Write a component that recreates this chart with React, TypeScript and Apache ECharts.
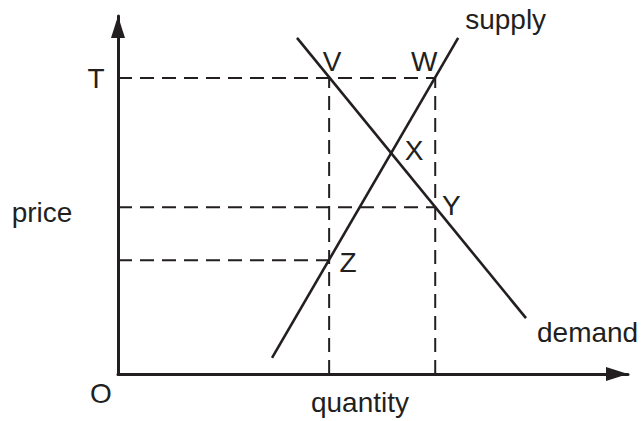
import React, { useEffect, useRef } from 'react';
import * as echarts from 'echarts';

// Curve end points (quantity, price) in chart units (0..100 on each axis)
const supplyQuantity = [30.2, 66.7];
const supplyPrice = [4.5, 93.9];
const demandQuantity = [35.1, 80.0];
const demandPrice = [93.9, 15.6];

// Guide levels
const quantityMarks = [41.4, 62.2]; // V/Z column, W/Y column
const priceMarks = [82.7, 46.6, 31.8]; // T (V,W), Y, Z

// Texts
const pointLabels = ['V', 'W', 'X', 'Y', 'Z'];
const curveLabels = ['supply', 'demand'];
const axisTitles = ['price', 'quantity'];
const priceTickLabel = 'T';
const originLabel = 'O';

const INK = '#231f20';
const FONT = '"Liberation Sans", Arial, Helvetica, sans-serif';
const FS = 28;

function intersect(a1: number[], a2: number[], b1: number[], b2: number[]) {
  const [x1, y1] = a1, [x2, y2] = a2, [x3, y3] = b1, [x4, y4] = b2;
  const d = (x1 - x2) * (y3 - y4) - (y1 - y2) * (x3 - x4);
  const t = ((x1 - x3) * (y3 - y4) - (y1 - y3) * (x3 - x4)) / d;
  return [x1 + t * (x2 - x1), y1 + t * (y2 - y1)];
}

export default function App() {
  const ref = useRef<HTMLDivElement>(null);
  useEffect(() => {
    document.body.style.margin = '0';
    if (!ref.current) return;
    const chart = echarts.init(ref.current, undefined, { renderer: 'svg' });

    const s1 = [supplyQuantity[0], supplyPrice[0]];
    const s2 = [supplyQuantity[1], supplyPrice[1]];
    const d1 = [demandQuantity[0], demandPrice[0]];
    const d2 = [demandQuantity[1], demandPrice[1]];
    const [qV, qW] = quantityMarks;
    const [pT, pY, pZ] = priceMarks;
    const X = intersect(s1, s2, d1, d2);

    const points: Record<string, number[]> = {
      V: [qV, pT],
      W: [qW, pT],
      X,
      Y: [qW, pY],
      Z: [qV, pZ],
    };
    const pointOffsets: Record<string, number[]> = {
      V: [3, -16],
      W: [-11, -16],
      X: [23, -3],
      Y: [16, -2],
      Z: [19, 2],
    };

    const dashed = [
      [[0, pT], [qW, pT]],
      [[0, pY], [qW, pY]],
      [[0, pZ], [qV, pZ]],
      [[qV, 0], [qV, pT]],
      [[qW, 0], [qW, pT]],
    ];

    const labelData: any[] = [
      ...pointLabels.map((n) => ({
        name: n,
        value: points[n],
        label: { offset: pointOffsets[n], align: 'center' },
      })),
      { name: priceTickLabel, value: [0, pT], label: { offset: [-22, 1], align: 'center' } },
      { name: originLabel, value: [0, 0], label: { offset: [-17, 19], align: 'center' } },
      { name: curveLabels[0], value: s2, label: { offset: [7, -18], align: 'left' } },
      { name: curveLabels[1], value: d2, label: { offset: [11, 14], align: 'left' } },
    ];

    chart.setOption({
      animation: false,
      grid: { left: 118, top: 16, width: 510, height: 358, outerBoundsMode: 'none' },
      xAxis: {
        type: 'value', min: 0, max: 100,
        axisLine: {
          show: true, onZero: false,
          symbol: ['none', 'triangle'], symbolSize: [14, 22], symbolOffset: [0, -11],
          lineStyle: { color: INK, width: 3 },
        },
        axisTick: { show: false }, axisLabel: { show: false }, splitLine: { show: false },
      },
      yAxis: {
        type: 'value', min: 0, max: 100,
        axisLine: {
          show: true, onZero: false,
          symbol: ['none', 'triangle'], symbolSize: [14, 22], symbolOffset: [0, -11],
          lineStyle: { color: INK, width: 3 },
        },
        axisTick: { show: false }, axisLabel: { show: false }, splitLine: { show: false },
      },
      series: [
        ...dashed.map((seg, i) => ({
          type: 'line', name: 'guide' + i, data: seg, symbol: 'none', silent: true,
          lineStyle: { color: INK, width: 2, type: [14, 8] }, z: 2,
        })),
        {
          type: 'line', name: curveLabels[0], data: [s1, s2], symbol: 'none',
          lineStyle: { color: INK, width: 2.6 }, z: 3,
        },
        {
          type: 'line', name: curveLabels[1], data: [d1, d2], symbol: 'none',
          lineStyle: { color: INK, width: 2.6 }, z: 3,
        },
        {
          type: 'scatter', name: 'labels', data: labelData, symbolSize: 0, z: 5,
          itemStyle: { color: INK, opacity: 1 },
          label: {
            show: true, formatter: '{b}', position: [0, 0], verticalAlign: 'middle',
            fontFamily: FONT, fontSize: FS, color: INK, opacity: 1,
            textBorderWidth: 0, textBorderColor: 'transparent',
          },
        },
      ],
      graphic: [
        {
          type: 'text', x: 42, y: 212,
          style: { text: axisTitles[0], fontFamily: FONT, fontSize: FS, fill: INK, align: 'center', verticalAlign: 'middle' },
        },
        {
          type: 'text', x: 360, y: 402,
          style: { text: axisTitles[1], fontFamily: FONT, fontSize: FS, fill: INK, align: 'center', verticalAlign: 'middle' },
        },
      ],
    });
    return () => chart.dispose();
  }, []);
  return <div ref={ref} style={{ width: 643, height: 421, background: '#fff' }} />;
}
